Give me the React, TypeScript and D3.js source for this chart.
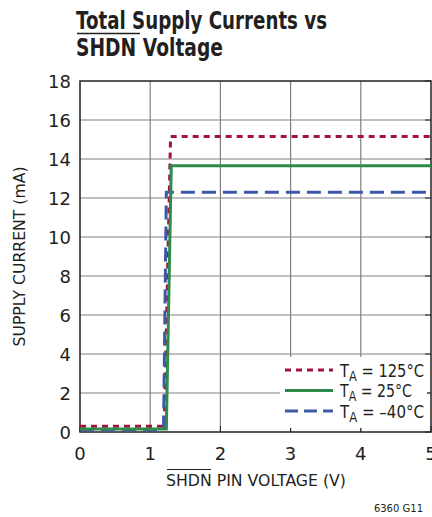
import React, { useEffect, useRef } from 'react';
import * as d3 from 'd3';

// values
const xTicks = [0, 1, 2, 3, 4, 5];
const yTicks = [0, 2, 4, 6, 8, 10, 12, 14, 16, 18];

const hotPts: [number, number][] = [[0, 0.3], [1.2, 0.3], [1.29, 15.15], [5, 15.15]];
const roomPts: [number, number][] = [[0, 0.15], [1.23, 0.15], [1.3, 13.65], [5, 13.65]];
const coldPts: [number, number][] = [[0, 0.1], [1.19, 0.1], [1.23, 12.3], [5, 12.3]];

const seriesNames = ['125°C', '25°C', '–40°C'];
const legendWidths = [84, 72, 84];
const seriesColors = ['#A3123A', '#2E8B4C', '#3C58A8'];
const seriesDash = ['6,5', null, '14,7'];

const FONT = "'DejaVu Sans', sans-serif";

const App: React.FC = () => {
  const svgRef = useRef<SVGSVGElement>(null);

  useEffect(() => {
    const svg = d3.select(svgRef.current);
    svg.selectAll('*').remove();

    const left = 80, right = 431, top = 81, bottom = 432;

    const x = d3.scaleLinear().domain([0, 5]).range([left, right]);
    const y = d3.scaleLinear().domain([0, 18]).range([bottom, top]);

    // Title
    const title = svg.append('text')
      .attr('font-family', FONT)
      .attr('font-weight', 'bold')
      .attr('font-size', 24)
      .attr('fill', '#231f20');
    title.append('tspan').attr('x', 76).attr('y', 29)
      .attr('textLength', 251).attr('lengthAdjust', 'spacingAndGlyphs')
      .text('Total Supply Currents vs');
    title.append('tspan').attr('x', 76).attr('y', 56)
      .attr('textLength', 147).attr('lengthAdjust', 'spacingAndGlyphs')
      .text('SHDN Voltage');
    svg.append('line')
      .attr('x1', 77).attr('x2', 140).attr('y1', 33.5).attr('y2', 33.5)
      .attr('stroke', '#231f20').attr('stroke-width', 1.5);

    // grid
    const g = svg.append('g');
    g.selectAll('.gx')
      .data(xTicks.slice(1, -1))
      .enter().append('line')
      .attr('x1', d => x(d)).attr('x2', d => x(d))
      .attr('y1', top).attr('y2', bottom)
      .attr('stroke', '#808080').attr('stroke-width', 1.2);
    g.selectAll('.gy')
      .data(yTicks.slice(1, -1))
      .enter().append('line')
      .attr('x1', left).attr('x2', right)
      .attr('y1', d => y(d)).attr('y2', d => y(d))
      .attr('stroke', '#808080').attr('stroke-width', 1.2);

    // legend background
    svg.append('rect')
      .attr('x', 280).attr('y', 357).attr('width', 147).attr('height', 71)
      .attr('fill', '#fff');

    // inner ticks
    g.selectAll('.tx')
      .data(xTicks)
      .enter().append('line')
      .attr('x1', d => x(d)).attr('x2', d => x(d))
      .attr('y1', bottom).attr('y2', bottom - 6)
      .attr('stroke', '#231f20').attr('stroke-width', 1);
    g.selectAll('.ty')
      .data(yTicks)
      .enter().append('line')
      .attr('x1', right).attr('x2', right - 6)
      .attr('y1', d => y(d)).attr('y2', d => y(d))
      .attr('stroke', '#231f20').attr('stroke-width', 1);

    // frame
    svg.append('rect')
      .attr('x', left).attr('y', top)
      .attr('width', right - left).attr('height', bottom - top)
      .attr('fill', 'none').attr('stroke', '#231f20').attr('stroke-width', 1.5);

    // series
    const line = d3.line<[number, number]>().x(d => x(d[0])).y(d => y(d[1]));
    const all = [hotPts, coldPts, roomPts];
    const idx = [0, 2, 1];
    all.forEach((pts, i) => {
      const k = idx[i];
      const p = svg.append('path')
        .datum(pts)
        .attr('d', line)
        .attr('fill', 'none')
        .attr('stroke', seriesColors[k])
        .attr('stroke-width', 3);
      if (seriesDash[k]) p.attr('stroke-dasharray', seriesDash[k] as string);
    });

    // tick labels
    svg.selectAll('.xl')
      .data(xTicks)
      .enter().append('text')
      .attr('x', d => x(d)).attr('y', 460)
      .attr('text-anchor', 'middle')
      .attr('font-family', FONT).attr('font-size', 18).attr('fill', '#231f20')
      .text(d => d);
    svg.selectAll('.yl')
      .data(yTicks)
      .enter().append('text')
      .attr('x', 71).attr('y', d => y(d) + 6.5)
      .attr('text-anchor', 'end')
      .attr('font-family', FONT).attr('font-size', 18).attr('fill', '#231f20')
      .text(d => d);

    // axis titles
    svg.append('text')
      .attr('x', 256).attr('y', 486)
      .attr('text-anchor', 'middle')
      .attr('font-family', FONT).attr('font-size', 16).attr('fill', '#231f20')
      .attr('textLength', 180).attr('lengthAdjust', 'spacingAndGlyphs')
      .text('SHDN PIN VOLTAGE (V)');
    svg.append('line')
      .attr('x1', 167).attr('x2', 211).attr('y1', 469.5).attr('y2', 469.5)
      .attr('stroke', '#231f20').attr('stroke-width', 1);
    svg.append('text')
      .attr('transform', `translate(25, ${(top + bottom) / 2}) rotate(-90)`)
      .attr('text-anchor', 'middle')
      .attr('font-family', FONT).attr('font-size', 16).attr('fill', '#231f20')
      .attr('textLength', 180).attr('lengthAdjust', 'spacingAndGlyphs')
      .text('SUPPLY CURRENT (mA)');

    svg.append('text')
      .attr('x', 423).attr('y', 512)
      .attr('text-anchor', 'end')
      .attr('font-family', FONT).attr('font-size', 10).attr('fill', '#231f20')
      .text('6360 G11');

    // legend
    seriesNames.forEach((name, i) => {
      const ly = 370 + i * 20.5;
      const l = svg.append('line')
        .attr('x1', 285).attr('x2', 333).attr('y1', ly).attr('y2', ly)
        .attr('stroke', seriesColors[i]).attr('stroke-width', 3);
      if (seriesDash[i]) l.attr('stroke-dasharray', i === 0 ? '6,5' : '13,6');
      const t = svg.append('text')
        .attr('x', 340).attr('y', ly + 6.5)
        .attr('font-family', FONT).attr('font-size', 18).attr('fill', '#231f20')
        .attr('textLength', legendWidths[i]).attr('lengthAdjust', 'spacingAndGlyphs');
      t.append('tspan').text('T');
      t.append('tspan').attr('font-size', 14).attr('dy', 4).text('A');
      t.append('tspan').attr('dy', -4).text(` = ${name}`);
    });
  }, []);

  return (
    <svg
      ref={svgRef}
      width={432}
      height={517}
      style={{ position: 'absolute', left: 0, top: 0, background: '#fff' }}
    />
  );
};

export default App;
